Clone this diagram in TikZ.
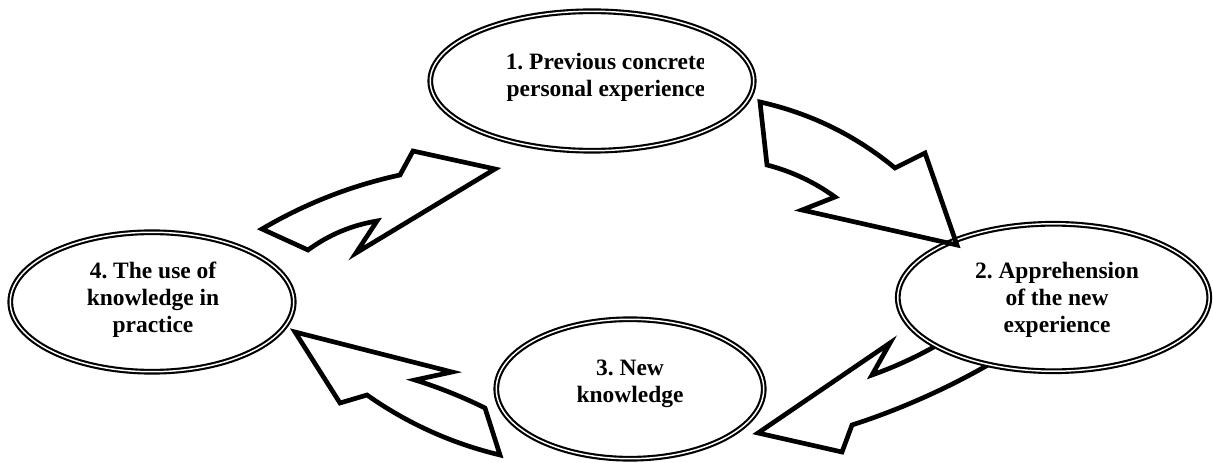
\documentclass[tikz,border=0pt]{standalone}
\usepackage{fontspec}
\setmainfont{Liberation Serif}
\usetikzlibrary{shapes.geometric}
\frenchspacing
\begin{document}
\begin{tikzpicture}[x=0.75pt,y=-0.75pt,
  ring/.style={draw, shape=ellipse, double, line width=1.6pt, double distance=1.1pt, fill=white, inner sep=0pt},
  blockarrow/.style={draw, line width=3.5pt, line join=miter, miter limit=20},
  lbl/.style={font=\bfseries\fontsize{17.6pt}{20.25pt}\selectfont, align=center, inner sep=0pt}]
\useasboundingbox (0,0) rectangle (1213,463);
% arrow 4 -> 1
\draw[blockarrow, fill=white] (262,229) .. controls (305.1,203.6) and (351.1,185.6) .. (400,175)
  -- (413,151) -- (495,169) -- (356,253) -- (377,221)
  .. controls (351.7,225.2) and (328.7,234.8) .. (308,250) -- cycle;
% arrow 3 -> 4
\draw[blockarrow, fill=white] (295,332) -- (452,372) -- (415,380)
  .. controls (439,387.5) and (462.4,396.8) .. (485,408) -- (500,455)
  .. controls (451.9,443.5) and (407.5,423.5) .. (367,395) -- (340,403) -- cycle;
% arrow 2 -> 3
\draw[blockarrow, fill=white] (960,331) .. controls (932.5,349.3) and (903.1,363.9) .. (872,375)
  -- (890,343) -- (758,433) -- (842,452) -- (852,425)
  .. controls (905.7,407.6) and (956.7,384.2) .. (1005,355) -- cycle;
% ellipses
\node[ring, minimum width=242.6pt, minimum height=104.6pt] (e1) at (592,81) {};
\node[ring, minimum width=200.6pt, minimum height=104.6pt] (e3) at (630,389) {};
\node[ring, minimum width=212.6pt, minimum height=104.6pt] (e4) at (152,302) {};
\node[ring, minimum width=233.6pt, minimum height=110.6pt] (e2) at (1053.5,297.5) {};
% arrow 1 -> 2
\draw[blockarrow] (760,102) .. controls (810.3,113.2) and (855.3,135.2) .. (895,168)
  -- (925,153) -- (957,245) -- (802,210) -- (835,197)
  .. controls (814.3,182) and (791.7,171.4) .. (767,165) -- cycle;
% texts
\begin{scope}
  \clip (0,0) rectangle (703,200);
  \node[lbl] (t1) at (606,77) {1. Previous concrete\\personal experience};
\end{scope}
\node[lbl] (t2) at (1057,300) {2. Apprehension\\of the new\\experience};
\node[lbl] (t3) at (630,384) {3. New\\knowledge};
\node[lbl] (t4) at (153,300) {4. The use of\\knowledge in\\practice};
\end{tikzpicture}
\end{document}
